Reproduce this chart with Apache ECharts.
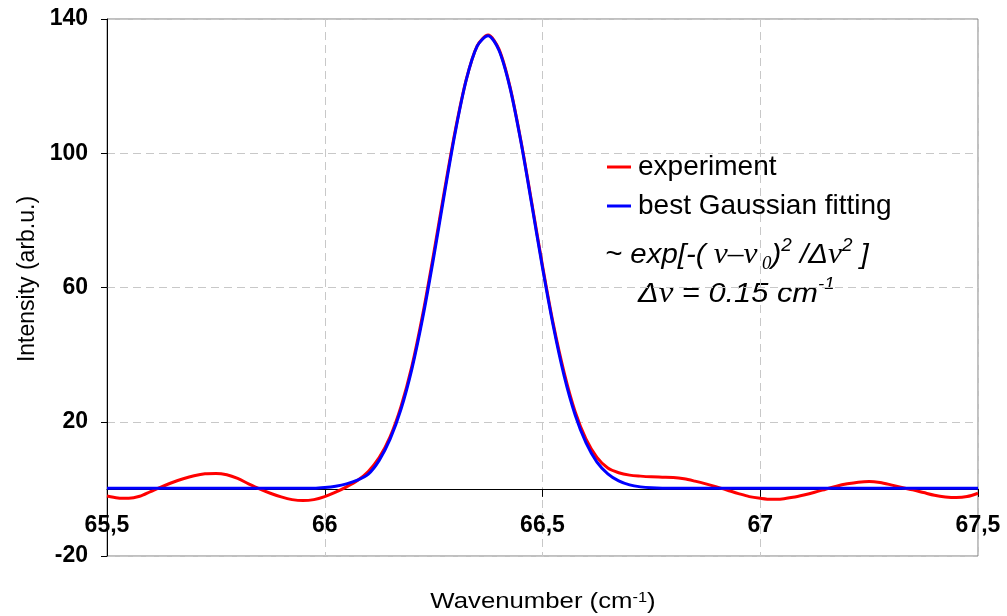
<!DOCTYPE html>
<html>
<head>
<meta charset="utf-8">
<script src="https://cdn.jsdelivr.net/npm/echarts@6/dist/echarts.min.js"></script>
<style>
  html, body { margin: 0; padding: 0; background: #fff; }
  #chart { width: 1007px; height: 616px; }
</style>
</head>
<body>
<div id="chart"></div>
<script>
// Wavenumber samples (cm^-1)
const wavenumber = [
  65.500, 65.525, 65.550, 65.575, 65.600, 65.625, 65.650, 65.675, 65.700, 65.725,
  65.750, 65.775, 65.800, 65.825, 65.850, 65.875, 65.900, 65.925, 65.950, 65.975,
  66.000, 66.025, 66.050, 66.075, 66.100, 66.125, 66.150, 66.175, 66.200, 66.225,
  66.250, 66.275, 66.300, 66.325, 66.350, 66.375, 66.400, 66.425, 66.450, 66.475,
  66.500, 66.525, 66.550, 66.575, 66.600, 66.625, 66.650, 66.675, 66.700, 66.725,
  66.750, 66.775, 66.800, 66.825, 66.850, 66.875, 66.900, 66.925, 66.950, 66.975,
  67.000, 67.025, 67.050, 67.075, 67.100, 67.125, 67.150, 67.175, 67.200, 67.225,
  67.250, 67.275, 67.300, 67.325, 67.350, 67.375, 67.400, 67.425, 67.450, 67.475,
  67.500
];

// Measured intensity (arb.u.)
const experiment = [
  -2.1, -2.7, -2.8, -2.2, -0.8, 0.6, 1.9, 3.0, 3.9, 4.5,
  4.6, 4.2, 3.1, 1.5, 0.0, -1.3, -2.4, -3.2, -3.5, -3.2,
  -2.3, -1.0, 0.6, 2.5, 5.2, 9.3, 15.5, 24.5, 36.5, 52.0,
  70.0, 89.0, 107.0, 122.0, 132.0, 135.2, 131.0, 120.0, 104.0, 85.5,
  66.5, 49.0, 34.5, 23.0, 14.8, 9.4, 6.2, 4.8, 4.1, 3.8,
  3.6, 3.5, 3.4, 3.0, 2.3, 1.5, 0.6, -0.4, -1.4, -2.3,
  -2.8, -3.1, -3.0, -2.5, -1.8, -1.0, -0.1, 0.8, 1.5, 2.0,
  2.2, 1.9, 1.2, 0.4, -0.3, -1.1, -1.9, -2.4, -2.6, -2.3,
  -1.3
];

// Gaussian fit of the line
const gaussianFit = [
  0.2, 0.2, 0.2, 0.2, 0.2, 0.2, 0.2, 0.2, 0.2, 0.2,
  0.2, 0.2, 0.2, 0.2, 0.2, 0.2, 0.2, 0.2, 0.2, 0.2,
  0.4, 0.8, 1.5, 2.6, 4.4, 8.5, 14.8, 23.7, 35.7, 51.0,
  68.9, 88.1, 106.5, 121.9, 131.9, 135.0, 130.7, 119.7, 103.7, 85.0,
  65.9, 48.4, 33.5, 22.0, 13.7, 8.0, 4.5, 2.4, 1.2, 0.6,
  0.3, 0.2, 0.2, 0.2, 0.2, 0.2, 0.2, 0.2, 0.2, 0.2,
  0.2, 0.2, 0.2, 0.2, 0.2, 0.2, 0.2, 0.2, 0.2, 0.2,
  0.2, 0.2, 0.2, 0.2, 0.2, 0.2, 0.2, 0.2, 0.2, 0.2,
  0.2
];

const seriesNames = ['experiment', 'best Gaussian fitting'];

const SANS = '"Liberation Sans", Arial, Helvetica, sans-serif';
const SERIF = '"Liberation Serif", "Times New Roman", serif';
const gridDash = { color: '#c8c8c8', type: [8, 5], width: 1 };

const chart = echarts.init(document.getElementById('chart'));

chart.setOption({
  backgroundColor: '#ffffff',
  animation: false,
  grid: {
    left: 107, right: 29, top: 19, bottom: 60,
    show: true, borderColor: '#808080', borderWidth: 1, backgroundColor: 'transparent'
  },
  xAxis: {
    type: 'value',
    min: 65.5, max: 67.5, interval: 0.5,
    axisLine: { show: true, onZero: false, lineStyle: { color: '#000', width: 1 } },
    axisTick: { show: true, length: 8, lineStyle: { color: '#000' } },
    axisLabel: {
      margin: 25, showMinLabel: true, showMaxLabel: true,
      fontFamily: SANS, fontSize: 23, fontWeight: 'bold', color: '#000',
      formatter: v => String(v).replace('.', ',')
    },
    splitLine: { show: true, lineStyle: gridDash }
  },
  yAxis: {
    type: 'value',
    min: -20, max: 140, interval: 40,
    axisLine: { show: true, onZero: false, lineStyle: { color: '#000', width: 1 } },
    axisTick: { show: true, length: 6, lineStyle: { color: '#000' } },
    axisLabel: {
      margin: 19,
      fontFamily: SANS, fontSize: 23, fontWeight: 'bold', color: '#000'
    },
    splitLine: { show: true, lineStyle: gridDash }
  },
  legend: {
    orient: 'vertical',
    left: 607, top: 153,
    padding: 0,
    itemGap: 11,
    itemWidth: 24, itemHeight: 3,
    icon: 'rect',
    textStyle: { fontFamily: SANS, fontSize: 28, color: '#000', padding: [0, 0, 0, 2] },
    data: seriesNames
  },
  series: [
    {
      name: seriesNames[0],
      type: 'line',
      data: wavenumber.map((x, i) => [x, experiment[i]]),
      showSymbol: false, smooth: 0.3,
      lineStyle: { color: '#ff0000', width: 3 },
      itemStyle: { color: '#ff0000' },
      z: 2
    },
    {
      name: seriesNames[1],
      type: 'line',
      data: wavenumber.map((x, i) => [x, gaussianFit[i]]),
      showSymbol: false, smooth: 0.3,
      lineStyle: { color: '#0000ff', width: 3 },
      itemStyle: { color: '#0000ff' },
      z: 3
    }
  ],
  graphic: [
    {
      type: 'text', x: 28, y: 279, rotation: Math.PI / 2,
      style: {
        text: 'Intensity (arb.u.)', fill: '#000',
        font: '23px ' + SANS, textAlign: 'center', textVerticalAlign: 'middle'
      }
    },
    {
      type: 'text', x: 543, y: 602, scaleX: 1.17,
      style: {
        text: 'Wavenumber (cm{sup|-1})',
        fill: '#000', font: '22px ' + SANS,
        textAlign: 'center', textVerticalAlign: 'middle',
        rich: {
          sup: { fontFamily: SANS, fontSize: 14, verticalAlign: 'top', lineHeight: 14 }
        }
      }
    },
    {
      type: 'text', x: 605, y: 255, scaleX: 1.05,
      style: {
        text: '{a|~ exp[-( }{g|ν–ν}{sub| 0}{a|)}{sup|2}{a| /Δ}{g|ν}{sup|2}{a| ]}',
        fill: '#000', textAlign: 'left', textVerticalAlign: 'middle',
        rich: {
          a: { fontFamily: SANS, fontStyle: 'italic', fontSize: 28, lineHeight: 36 },
          g: { fontFamily: SERIF, fontStyle: 'italic', fontSize: 30, lineHeight: 36 },
          sub: { fontFamily: SERIF, fontStyle: 'italic', fontSize: 18, lineHeight: 18, verticalAlign: 'bottom' },
          sup: { fontFamily: SANS, fontStyle: 'italic', fontSize: 18, lineHeight: 18, verticalAlign: 'top' }
        }
      }
    },
    {
      type: 'text', x: 638, y: 294, scaleX: 1.1,
      style: {
        text: '{a|Δ}{g|ν}{a| = 0.15 cm}{sup|-1}',
        fill: '#000', textAlign: 'left', textVerticalAlign: 'middle',
        rich: {
          a: { fontFamily: SANS, fontStyle: 'italic', fontSize: 28, lineHeight: 36 },
          g: { fontFamily: SERIF, fontStyle: 'italic', fontSize: 30, lineHeight: 36 },
          sup: { fontFamily: SANS, fontStyle: 'italic', fontSize: 17, lineHeight: 17, verticalAlign: 'top' }
        }
      }
    }
  ]
});

// Lift the wavenumber axis (line, ticks, labels) to the zero-intensity level.
const zeroPx = chart.convertToPixel({ yAxisIndex: 0 }, 0);
const bottomPx = chart.convertToPixel({ yAxisIndex: 0 }, -20);
chart.setOption({ xAxis: { offset: zeroPx - bottomPx } });
</script>
</body>
</html>
